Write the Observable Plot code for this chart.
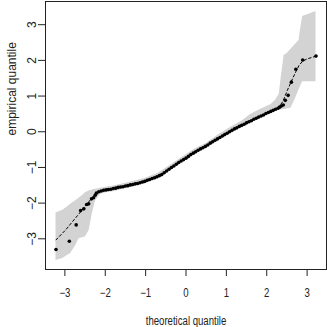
<!DOCTYPE html>
<html><head><meta charset="utf-8">
<script src="https://cdn.jsdelivr.net/npm/d3@7"></script>
<script src="https://cdn.jsdelivr.net/npm/@observablehq/plot@0.6"></script>
<style>html,body{margin:0;padding:0;background:#fff;overflow:hidden}</style>
</head><body><div id="chart"></div>
<script>
// Tick values
const xTicks = [-3, -2, -1, 0, 1, 2, 3];
const yTicks = [-3, -2, -1, 0, 1, 2, 3];

// Envelope (grey band)
const bandX  = [-3.22,-3.05,-2.94,-2.86,-2.73,-2.65,-2.57,-2.49,-2.40,-2.32,-2.24,-2.11,-1.95,-1.79,-1.55,-1.29,-1.00,-0.70,-0.40,-0.10,0.20,0.50,0.80,1.10,1.40,1.60,1.85,2.10,2.22,2.31,2.35,2.43,2.51,2.60,2.72,2.80,2.84,2.89,3.22];
const bandLo = [-3.61,-3.55,-3.47,-3.42,-3.19,-3.00,-2.97,-2.95,-2.77,-2.30,-1.93,-1.75,-1.70,-1.68,-1.61,-1.55,-1.46,-1.33,-1.10,-0.86,-0.64,-0.45,-0.24,-0.03,0.15,0.24,0.39,0.52,0.58,0.61,0.62,0.62,0.64,0.66,0.95,1.17,1.28,1.40,1.40];
const bandHi = [-2.28,-2.20,-2.11,-2.03,-1.93,-1.86,-1.79,-1.71,-1.66,-1.63,-1.61,-1.58,-1.55,-1.52,-1.46,-1.39,-1.30,-1.17,-0.95,-0.72,-0.50,-0.33,-0.09,0.12,0.31,0.48,0.63,0.76,0.88,1.05,1.44,2.14,2.20,2.31,2.46,2.56,2.89,3.23,3.37];

// Dashed reference curve (tails)
const fitLoX = [-3.22,-2.98,-2.82,-2.65,-2.49,-2.36,-2.24];
const fitLoY = [-3.03,-2.75,-2.53,-2.30,-2.07,-1.90,-1.74];
const fitHiX = [2.28,2.40,2.51,2.64,2.72,2.80,2.89,3.00,3.22];
const fitHiY = [0.66,0.85,1.16,1.49,1.68,1.86,1.98,2.04,2.12];

// Sample quantiles (theoretical, empirical)
const ptX = [-3.22,-2.89,-2.72,-2.61,-2.53,-2.46,-2.41,-2.34,-2.29,-2.25,
  -2.22,-2.16,-2.10,-2.04,-1.98,-1.92,-1.86,-1.80,-1.74,-1.68,-1.62,-1.56,-1.50,-1.44,-1.38,-1.32,-1.26,-1.20,-1.14,-1.08,-1.02,
  -0.96,-0.90,-0.84,-0.78,-0.72,-0.66,-0.60,-0.54,-0.48,-0.42,-0.36,-0.30,-0.24,-0.18,-0.12,-0.06,0.00,
  0.06,0.12,0.18,0.24,0.30,0.36,0.42,0.48,0.54,0.60,0.66,0.72,0.78,0.84,0.90,0.96,1.02,1.08,1.14,1.20,1.26,1.32,1.38,1.44,1.50,
  1.56,1.62,1.68,1.74,1.80,1.86,1.92,1.98,2.04,2.10,2.16,2.22,2.28,
  2.32,2.36,2.41,2.46,2.53,2.61,2.72,2.89,3.22];
const ptY = [-3.30,-3.07,-2.61,-2.21,-2.16,-2.04,-2.02,-1.88,-1.85,-1.78,
  -1.72,-1.68,-1.66,-1.64,-1.63,-1.62,-1.61,-1.59,-1.58,-1.56,-1.55,-1.54,-1.52,-1.51,-1.49,-1.48,-1.46,-1.45,-1.43,-1.41,-1.39,
  -1.36,-1.34,-1.31,-1.29,-1.26,-1.23,-1.20,-1.15,-1.10,-1.05,-1.00,-0.96,-0.91,-0.86,-0.82,-0.78,-0.74,
  -0.69,-0.64,-0.60,-0.56,-0.52,-0.48,-0.45,-0.41,-0.37,-0.32,-0.28,-0.24,-0.20,-0.16,-0.12,-0.08,-0.04,0.00,0.04,0.08,0.11,0.15,0.18,0.21,0.25,
  0.28,0.31,0.35,0.38,0.41,0.44,0.47,0.51,0.54,0.57,0.60,0.63,0.66,
  0.69,0.72,0.75,0.88,1.02,1.39,1.75,2.01,2.12];

const fmt = d => d < 0 ? "\u2212" + (-d) : String(d);
const ink = "#222";

const chart = Plot.plot({
  width: 327, height: 327,
  marginLeft: 45, marginRight: 1, marginTop: 1, marginBottom: 58,
  style: {fontFamily: "'Liberation Sans', Arial, Helvetica, sans-serif", fontSize: "12px", background: "#fff", color: ink},
  x: {domain: [-3.48, 3.48]},
  y: {domain: [-3.86, 3.65]},
  marks: [
    Plot.areaY(bandX, {x: bandX, y1: bandLo, y2: bandHi, fill: "#d3d3d3"}),
    Plot.line(fitLoX, {x: fitLoX, y: fitLoY, stroke: "#000", strokeWidth: 1, strokeDasharray: "2.5,2.5"}),
    Plot.line(fitHiX, {x: fitHiX, y: fitHiY, stroke: "#000", strokeWidth: 1, strokeDasharray: "2.5,2.5"}),
    Plot.dot(ptX, {x: ptX, y: ptY, r: 1.8, fill: "#000", stroke: "none"}),
    Plot.frame({stroke: ink}),
    Plot.axisX(xTicks, {tickSize: 7, tickPadding: 12, tickFormat: fmt, label: null}),
    Plot.axisY(yTicks, {tickSize: 7, tickFormat: () => "", label: null}),
    Plot.text(yTicks, {y: d => d, text: fmt, frameAnchor: "left", dx: -13, rotate: -90, textAnchor: "middle", lineAnchor: "middle", fill: ink}),
    Plot.text(["theoretical quantile"], {frameAnchor: "bottom", dy: 52, lineAnchor: "middle", fill: ink}),
    Plot.text(["empirical quantile"], {frameAnchor: "left", dx: -33, rotate: -90, lineAnchor: "middle", fill: ink})
  ]
});
document.getElementById("chart").append(chart);
// horizontal text in the reference is narrower
chart.querySelectorAll("text").forEach(t => {
  const tr = (t.getAttribute("transform") || "") + (t.parentNode.getAttribute("transform") || "");
  if (tr.includes("rotate")) return;
  const L = t.getComputedTextLength();
  if (L > 0) { t.setAttribute("textLength", L * 0.8); t.setAttribute("lengthAdjust", "spacingAndGlyphs"); }
});
</script>
</body></html>
